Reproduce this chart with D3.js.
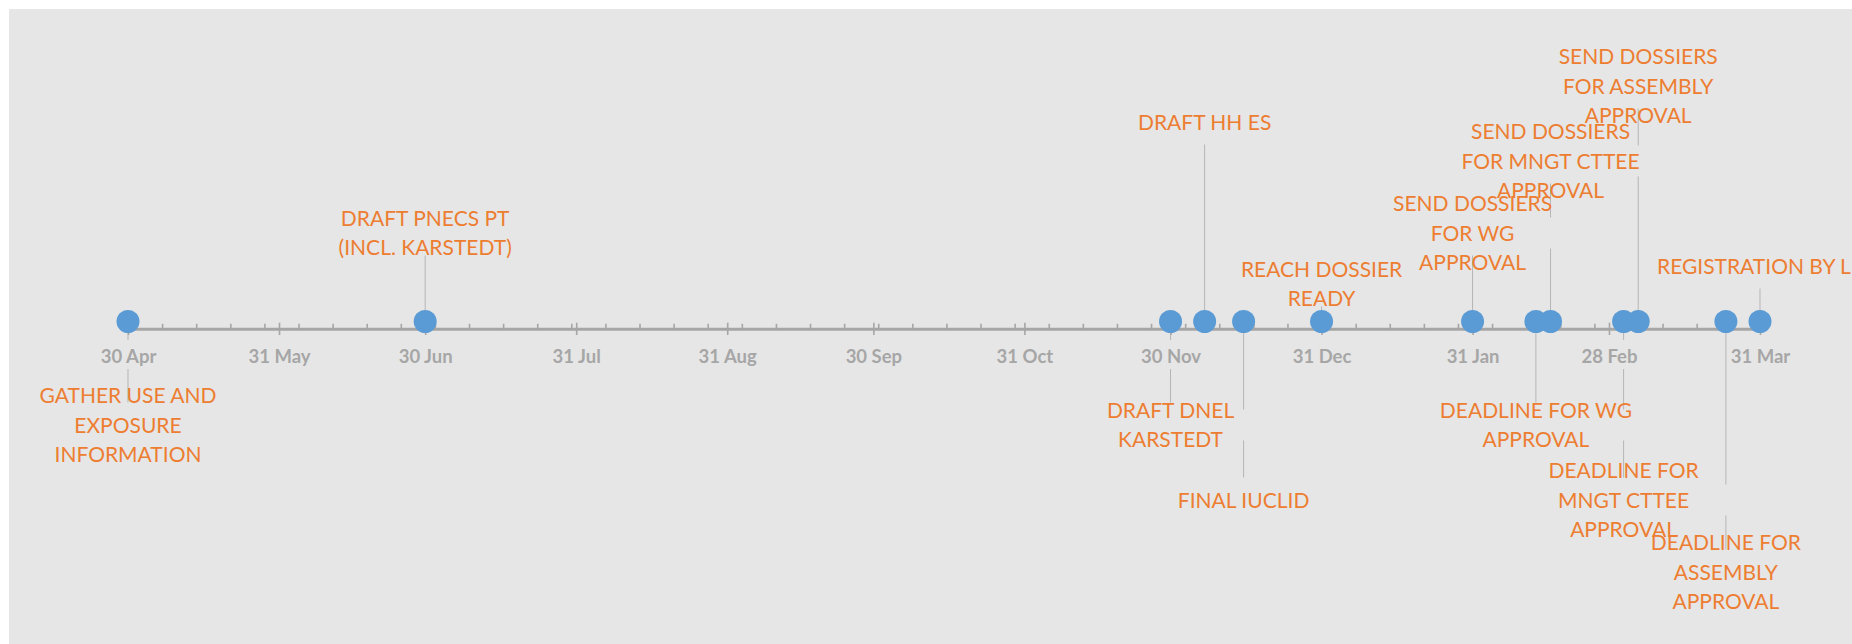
<!DOCTYPE html>
<html>
<head>
<meta charset="utf-8">
<script src="https://cdn.jsdelivr.net/npm/d3@7"></script>
<style>
  html, body { margin: 0; padding: 0; background: #ffffff; }
  svg { display: block; }
</style>
</head>
<body>
<svg id="chart" width="1852" height="644"></svg>
<script>
// Milestones: date, caption (explicit line breaks) and stem height (+ above / - below the axis)
const eventDates = [
  "2018-04-30", "2018-06-30", "2018-11-30", "2018-12-07", "2018-12-15", "2018-12-31",
  "2019-01-31", "2019-02-13", "2019-02-16", "2019-03-03", "2019-03-06", "2019-03-24", "2019-03-31"
];
const eventLabels = [
  "GATHER USE AND\nEXPOSURE\nINFORMATION",
  "DRAFT PNECS PT\n(INCL. KARSTEDT)",
  "DRAFT DNEL\nKARSTEDT",
  "DRAFT HH ES",
  "FINAL IUCLID",
  "REACH DOSSIER\nREADY",
  "SEND DOSSIERS\nFOR WG\nAPPROVAL",
  "DEADLINE FOR WG\nAPPROVAL",
  "SEND DOSSIERS\nFOR MNGT CTTEE\nAPPROVAL",
  "DEADLINE FOR\nMNGT CTTEE\nAPPROVAL",
  "SEND DOSSIERS\nFOR ASSEMBLY\nAPPROVAL",
  "DEADLINE FOR\nASSEMBLY\nAPPROVAL",
  "REGISTRATION BY LE"
];
const eventHeights = [-27, 22, -27, 59, -52, 5, 22, -27, 46, -52, 71, -76, 11];

// Date axis: month-end major ticks and their labels
const tickDates = [
  "2018-04-30", "2018-05-31", "2018-06-30", "2018-07-31", "2018-08-31", "2018-09-30",
  "2018-10-31", "2018-11-30", "2018-12-31", "2019-01-31", "2019-02-28", "2019-03-31"
];
const tickLabels = [
  "30 Apr", "31 May", "30 Jun", "31 Jul", "31 Aug", "30 Sep",
  "31 Oct", "30 Nov", "31 Dec", "31 Jan", "28 Feb", "31 Mar"
];
const axisStart = "2018-04-30";
const axisEnd = "2019-04-01";

const width = 1852, height = 644;
const bg = "#e6e6e6";
const axisColor = "#a6a6a6";
const stemColor = "#b5b5b5";
const dotColor = "#5b9bd5";
const labelColor = "#ed7d31";
const labelFont = "Lato, 'Open Sans', sans-serif";

const parse = d3.utcParse("%Y-%m-%d");
const events = eventDates.map((d, i) => ({
  date: parse(d), label: eventLabels[i], h: eventHeights[i]
}));

const x = d3.scaleUtc()
  .domain([parse("2018-04-30"), parse("2019-03-31")])
  .range([128, 1760]);

const dotY = 321.5;     // centre line of the milestone markers
const axisY = 329.3;    // axis rule
const y = d3.scaleLinear().domain([-100, 100]).range([dotY + 300, dotY - 300]);

const svg = d3.select("#chart");

// chart area
svg.append("rect")
  .attr("x", 9).attr("y", 9)
  .attr("width", width - 9).attr("height", height - 9)
  .attr("fill", bg);

// stems from the marker to the caption anchor
svg.append("g").selectAll("line")
  .data(events)
  .join("line")
  .attr("x1", d => x(d.date)).attr("x2", d => x(d.date))
  .attr("y1", y(0)).attr("y2", d => y(d.h))
  .attr("stroke", stemColor).attr("stroke-width", 1);

// axis
const axisG = svg.append("g").attr("transform", `translate(0,${axisY})`);

axisG.append("line")
  .attr("x1", x(parse(axisStart))).attr("x2", x(parse(axisEnd)))
  .attr("y1", 0).attr("y2", 0)
  .attr("stroke", axisColor).attr("stroke-width", 3);

// weekly minor ticks
const minorAxis = d3.axisTop(x)
  .tickValues(d3.utcMonday.range(parse(axisStart), parse(axisEnd)))
  .tickSize(5.5).tickSizeOuter(0).tickFormat("");
const minorG = axisG.append("g").call(minorAxis);
minorG.select(".domain").remove();
minorG.selectAll(".tick line").attr("stroke", axisColor).attr("stroke-width", 1.6);

// month-end major ticks with labels
const majorAxis = d3.axisBottom(x)
  .tickValues(tickDates.map(parse))
  .tickFormat((d, i) => tickLabels[i])
  .tickSize(6).tickSizeOuter(0);
const majorG = axisG.append("g").call(majorAxis);
majorG.select(".domain").remove();
majorG.selectAll(".tick line")
  .attr("y1", -6.6).attr("y2", 5.7)
  .attr("stroke", axisColor).attr("stroke-width", 1.6);
majorG.selectAll(".tick text")
  .attr("y", 27.4).attr("dy", "0.35em")
  .attr("fill", axisColor)
  .style("font-family", labelFont)
  .style("font-size", "18.5px")
  .style("font-weight", "700");
majorG.selectAll(".tick").each(function () {
  const t = d3.select(this).select("text");
  const b = t.node().getBBox();
  d3.select(this).insert("rect", "text")
    .attr("x", b.x - 2).attr("width", b.width + 4)
    .attr("y", 10.7).attr("height", 29)
    .attr("fill", bg);
});

// milestone markers
svg.append("g").selectAll("circle")
  .data(events)
  .join("circle")
  .attr("cx", d => x(d.date)).attr("cy", y(0))
  .attr("r", 11.5)
  .attr("fill", dotColor);

// captions
const rowGap = 29.3;
const captionCenter = d => y(d.h) + (d.h > 0 ? -22.5 : 22.5);

svg.append("g").selectAll("rect")
  .data(events)
  .join("rect")
  .attr("x", d => x(d.date) - 108).attr("width", 216)
  .attr("y", d => captionCenter(d) - 15.5).attr("height", 31)
  .attr("fill", bg);

const capG = svg.append("g")
  .style("font-family", labelFont)
  .style("font-size", "21px")
  .attr("fill", labelColor)
  .attr("text-anchor", "middle");

events.forEach(d => {
  const lines = d.label.split("\n");
  const c = captionCenter(d);
  const t = capG.append("text").attr("x", x(d.date));
  lines.forEach((ln, i) => {
    t.append("tspan")
      .attr("x", x(d.date))
      .attr("y", c + (i - (lines.length - 1) / 2) * rowGap + 7.5)
      .text(ln);
  });
});
</script>
</body>
</html>
